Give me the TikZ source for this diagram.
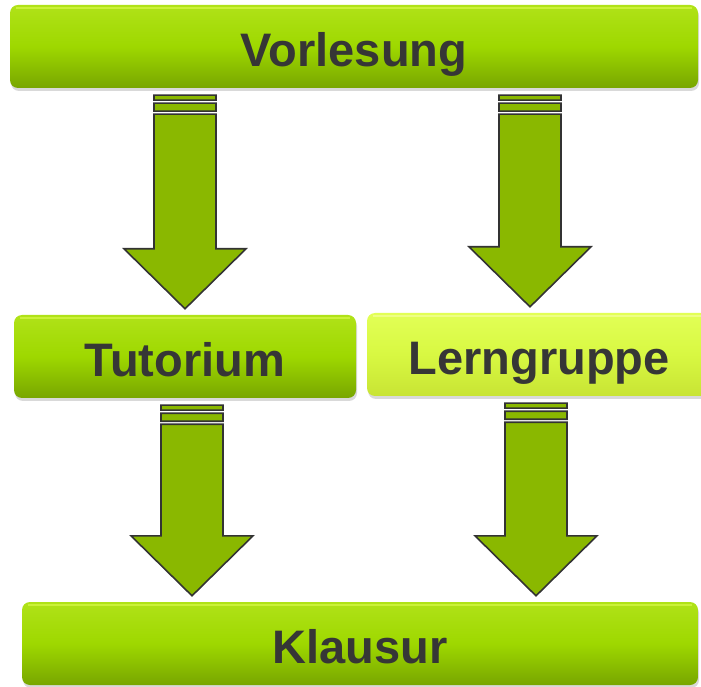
\documentclass[tikz,border=0pt]{standalone}
\usepackage{fontspec}
\setmainfont{Liberation Sans}
\usetikzlibrary{calc}
\usetikzlibrary{shadows}

\definecolor{boxtop}{HTML}{B0E218}
\definecolor{boxmid}{HTML}{9ED800}
\definecolor{boxbot}{HTML}{78A600}
\definecolor{boxshine}{HTML}{D8F848}
\definecolor{lerntop}{HTML}{E2FF56}
\definecolor{lernmid}{HTML}{D8F842}
\definecolor{lernbot}{HTML}{C8E434}
\definecolor{lernshine}{HTML}{F4FF9A}
\definecolor{arrowgreen}{HTML}{8AB800}
\definecolor{arrline}{HTML}{333333}
\definecolor{boxtext}{HTML}{363636}

% block arrow with two stripes: #1 x of the middle, #2 upper node, #3 lower node
\newcommand{\stripearrow}[3]{%
\draw[arrowbody] let \p1=(#2.south), \p2=(#3.north) in
 (#1pt-31pt,\y1-7pt) rectangle (#1pt+31pt,\y1-12pt)
 (#1pt-31pt,\y1-15pt) rectangle (#1pt+31pt,\y1-23pt)
 (#1pt-31pt,\y1-26pt) -- (#1pt-31pt,\y2+66pt) -- (#1pt-61pt,\y2+66pt) -- (#1pt,\y2+6pt)
 -- (#1pt+61pt,\y2+66pt) -- (#1pt+31pt,\y2+66pt) -- (#1pt+31pt,\y1-26pt) -- cycle;}

\begin{document}
\begin{tikzpicture} [x=1pt,y=1pt,
 box/.style={rounded corners=8pt, inner sep=0pt, text=boxtext,
   font=\fontsize{47}{50}\selectfont\bfseries, text height=40pt, text depth=0pt,
   minimum height=83pt,
   top color=boxtop, bottom color=boxbot, middle color=boxmid,
   drop shadow={opacity=.3, shadow xshift=1pt, shadow yshift=-3pt},
   path picture={\draw[boxshine, line width=2pt, opacity=.7]
     ([xshift=6pt, yshift=-3pt]path picture bounding box.north west) --
     ([xshift=-6pt, yshift=-3pt]path picture bounding box.north east);}},
 lernbox/.style={box, top color=lerntop, bottom color=lernbot, middle color=lernmid,
   path picture={\draw[lernshine, line width=2pt, opacity=.7]
     ([xshift=6pt, yshift=-3pt]path picture bounding box.north west) --
     ([xshift=-6pt, yshift=-3pt]path picture bounding box.north east);}},
 arrowbody/.style={draw=arrline, fill=arrowgreen, line width=1.6pt, line join=miter}]
\useasboundingbox (0,0) rectangle (701,686);

\node[box, minimum width=688pt] (vorl) at (354,639.5) {Vorlesung};
\node[box, minimum width=342pt] (tut) at (185,329.5) {Tutorium};
\node[lernbox, minimum width=344pt] (lern) at (539,331.5) {Lerngruppe};
\node[box, minimum width=676pt] (klaus) at (360,42.5) {Klausur};

\stripearrow{185}{vorl}{tut}
\stripearrow{530}{vorl}{lern}
\stripearrow{192}{tut}{klaus}
\stripearrow{536}{lern}{klaus}
\end{tikzpicture}
\end{document}
